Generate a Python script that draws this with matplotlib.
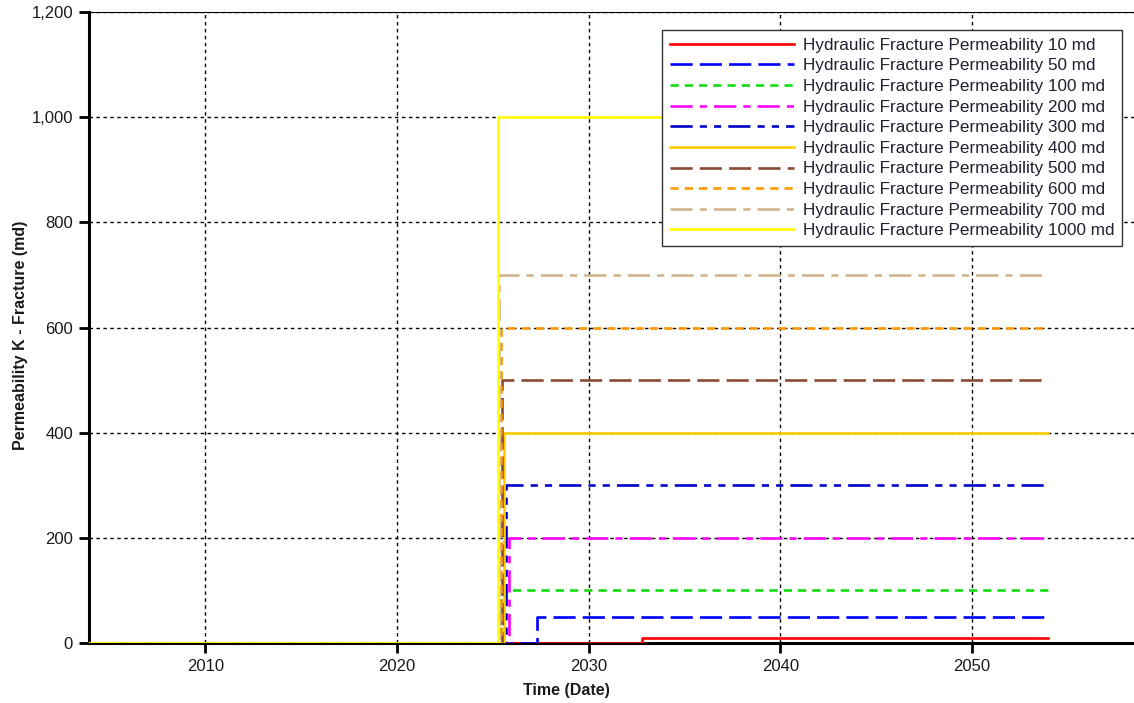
import matplotlib.pyplot as plt
import matplotlib as mpl
from matplotlib.ticker import FuncFormatter

mpl.rcParams['font.family'] = 'Liberation Sans'

# --- data (decimal years)
t_start = 2003.5
t_end = 2053.95
perm_md = [10, 50, 100, 200, 300, 400, 500, 600, 700, 1000]
step_year = [2032.8, 2027.3, 2025.45, 2025.85, 2025.67, 2025.57, 2025.5, 2025.42, 2025.33, 2025.26]
labels = ['Hydraulic Fracture Permeability %d md' % k for k in perm_md]

colors = ['#ff0000', '#0000ff', '#11dd11', '#ff00ff', '#0000c8',
          '#ffcc00', '#8b4a33', '#ff9900', '#d2b48c', '#ffff00']
styles = ['-', (0, (8.4, 2.7)), (0, (3.1, 2.3)), (0, (8.4, 2.7, 2.7, 2.7)),
          (0, (8.4, 2.7, 2.7, 2.7, 2.7, 2.7)), '-', (0, (8.4, 2.7)),
          (0, (3.1, 2.3)), (0, (8.4, 2.7, 2.7, 2.7)), '-']

fig = plt.figure(figsize=(11.34, 7.03), dpi=100)
ax = fig.add_axes([89 / 1134, 1 - 643 / 703, 1045 / 1134, 631 / 703])

for k, ts, c, ls, lab in zip(perm_md, step_year, colors, styles, labels):
    ax.plot([t_start, ts, ts, t_end], [0, 0, k, k], color=c, linestyle=ls,
            lw=1.9, label=lab, zorder=3)

ax.set_xlim(2003.93, 2058.45)
ax.set_ylim(0, 1200)
ax.set_xticks([2010, 2020, 2030, 2040, 2050])
ax.set_yticks(range(0, 1201, 200))
ax.yaxis.set_major_formatter(FuncFormatter(lambda v, p: '{:,.0f}'.format(v)))

ax.grid(True, color='black', linestyle=(0, (2.5, 2.5)), linewidth=1.0)
ax.set_axisbelow(True)

ax.spines['right'].set_visible(False)
ax.spines['top'].set_linewidth(0.8)
ax.spines['left'].set_linewidth(2.2)
ax.spines['bottom'].set_linewidth(2.2)
ax.tick_params(axis='both', direction='out', length=7.5, width=2, labelsize=12,
               labelcolor='#1a1a1a', pad=4)

ax.set_xlabel('Time (Date)', fontsize=11.5, fontweight='bold', color='#1a1a1a')
ax.xaxis.set_label_coords(0.4565, -0.063)
ax.set_ylabel('Permeability K - Fracture (md)', fontsize=11.5, fontweight='bold',
              color='#1a1a1a')
ax.yaxis.set_label_coords(-0.058, 0.487)

leg = ax.legend(loc='upper right', bbox_to_anchor=(0.9885, 0.9715), borderaxespad=0,
                fontsize=12.3, handlelength=7.3, handletextpad=0.5, labelspacing=0.33,
                borderpad=0.45, fancybox=False, framealpha=1, edgecolor='#333333',
                labelcolor='#202030')
leg.get_frame().set_linewidth(1.0)

plt.savefig('out.png', dpi=100)
